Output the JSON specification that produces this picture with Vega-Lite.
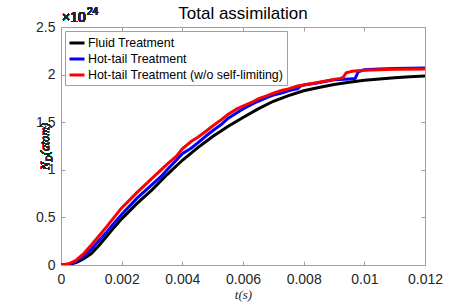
{
  "$schema": "https://vega.github.io/schema/vega-lite/v6.json",
  "width": 364,
  "height": 238,
  "autosize": "none",
  "padding": {"left": 61, "top": 27, "right": 44, "bottom": 40},
  "background": "white",
  "config": {
    "view": {"stroke": null},
    "font": "Liberation Sans",
    "axis": {
      "grid": false,
      "domainColor": "#a0a0a0",
      "tickColor": "#a0a0a0",
      "domainWidth": 1,
      "tickWidth": 1,
      "tickSize": -4,
      "labelFont": "Liberation Sans",
      "labelFontSize": 14,
      "labelColor": "#262626",
      "labelFlush": false,
      "labelOverlap": false
    },
    "legend": {
      "orient": "top-left",
      "offset": 4,
      "symbolType": "stroke",
      "symbolSize": 225,
      "symbolStrokeWidth": 3,
      "labelFont": "Liberation Sans",
      "labelFontSize": 12.4,
      "labelColor": "black",
      "labelLimit": 400,
      "labelOffset": 2,
      "strokeColor": "#a0a0a0",
      "fillColor": "white",
      "padding": 3,
      "rowPadding": 0
    }
  },
  "title": {
    "text": "Total assimilation",
    "font": "Liberation Sans",
    "fontSize": 17,
    "fontWeight": "normal",
    "color": "black",
    "offset": 4,
    "dy": 20
  },
  "data": {
    "values": [
      {"t": 0, "n": 0, "s": "Fluid Treatment"},
      {"t": 0.00025, "n": 0.005, "s": "Fluid Treatment"},
      {"t": 0.0005, "n": 0.025, "s": "Fluid Treatment"},
      {"t": 0.00075, "n": 0.065, "s": "Fluid Treatment"},
      {"t": 0.001, "n": 0.12, "s": "Fluid Treatment"},
      {"t": 0.00125, "n": 0.205, "s": "Fluid Treatment"},
      {"t": 0.0015, "n": 0.3, "s": "Fluid Treatment"},
      {"t": 0.00175, "n": 0.395, "s": "Fluid Treatment"},
      {"t": 0.002, "n": 0.485, "s": "Fluid Treatment"},
      {"t": 0.0025, "n": 0.645, "s": "Fluid Treatment"},
      {"t": 0.003, "n": 0.79, "s": "Fluid Treatment"},
      {"t": 0.0035, "n": 0.95, "s": "Fluid Treatment"},
      {"t": 0.004, "n": 1.1, "s": "Fluid Treatment"},
      {"t": 0.0045, "n": 1.23, "s": "Fluid Treatment"},
      {"t": 0.005, "n": 1.35, "s": "Fluid Treatment"},
      {"t": 0.0055, "n": 1.455, "s": "Fluid Treatment"},
      {"t": 0.006, "n": 1.55, "s": "Fluid Treatment"},
      {"t": 0.0065, "n": 1.64, "s": "Fluid Treatment"},
      {"t": 0.007, "n": 1.72, "s": "Fluid Treatment"},
      {"t": 0.0075, "n": 1.78, "s": "Fluid Treatment"},
      {"t": 0.008, "n": 1.83, "s": "Fluid Treatment"},
      {"t": 0.0085, "n": 1.865, "s": "Fluid Treatment"},
      {"t": 0.009, "n": 1.895, "s": "Fluid Treatment"},
      {"t": 0.0095, "n": 1.92, "s": "Fluid Treatment"},
      {"t": 0.01, "n": 1.94, "s": "Fluid Treatment"},
      {"t": 0.0105, "n": 1.955, "s": "Fluid Treatment"},
      {"t": 0.011, "n": 1.967, "s": "Fluid Treatment"},
      {"t": 0.0115, "n": 1.977, "s": "Fluid Treatment"},
      {"t": 0.012, "n": 1.985, "s": "Fluid Treatment"},

      {"t": 0, "n": 0, "s": "Hot-tail Treatment"},
      {"t": 0.00025, "n": 0.008, "s": "Hot-tail Treatment"},
      {"t": 0.0005, "n": 0.035, "s": "Hot-tail Treatment"},
      {"t": 0.00075, "n": 0.09, "s": "Hot-tail Treatment"},
      {"t": 0.001, "n": 0.165, "s": "Hot-tail Treatment"},
      {"t": 0.00125, "n": 0.255, "s": "Hot-tail Treatment"},
      {"t": 0.0015, "n": 0.345, "s": "Hot-tail Treatment"},
      {"t": 0.00175, "n": 0.44, "s": "Hot-tail Treatment"},
      {"t": 0.002, "n": 0.53, "s": "Hot-tail Treatment"},
      {"t": 0.0025, "n": 0.7, "s": "Hot-tail Treatment"},
      {"t": 0.003, "n": 0.845, "s": "Hot-tail Treatment"},
      {"t": 0.0033, "n": 0.93, "s": "Hot-tail Treatment"},
      {"t": 0.0035, "n": 1.0, "s": "Hot-tail Treatment"},
      {"t": 0.0038, "n": 1.1, "s": "Hot-tail Treatment"},
      {"t": 0.004, "n": 1.17, "s": "Hot-tail Treatment"},
      {"t": 0.0043, "n": 1.23, "s": "Hot-tail Treatment"},
      {"t": 0.0045, "n": 1.28, "s": "Hot-tail Treatment"},
      {"t": 0.0048, "n": 1.36, "s": "Hot-tail Treatment"},
      {"t": 0.005, "n": 1.41, "s": "Hot-tail Treatment"},
      {"t": 0.0053, "n": 1.48, "s": "Hot-tail Treatment"},
      {"t": 0.0055, "n": 1.54, "s": "Hot-tail Treatment"},
      {"t": 0.0058, "n": 1.6, "s": "Hot-tail Treatment"},
      {"t": 0.006, "n": 1.64, "s": "Hot-tail Treatment"},
      {"t": 0.0063, "n": 1.69, "s": "Hot-tail Treatment"},
      {"t": 0.0065, "n": 1.72, "s": "Hot-tail Treatment"},
      {"t": 0.0068, "n": 1.76, "s": "Hot-tail Treatment"},
      {"t": 0.007, "n": 1.785, "s": "Hot-tail Treatment"},
      {"t": 0.0073, "n": 1.81, "s": "Hot-tail Treatment"},
      {"t": 0.0075, "n": 1.83, "s": "Hot-tail Treatment"},
      {"t": 0.0077, "n": 1.845, "s": "Hot-tail Treatment"},
      {"t": 0.0078, "n": 1.85, "s": "Hot-tail Treatment"},
      {"t": 0.0079, "n": 1.88, "s": "Hot-tail Treatment"},
      {"t": 0.008, "n": 1.89, "s": "Hot-tail Treatment"},
      {"t": 0.0084, "n": 1.91, "s": "Hot-tail Treatment"},
      {"t": 0.009, "n": 1.945, "s": "Hot-tail Treatment"},
      {"t": 0.0095, "n": 1.955, "s": "Hot-tail Treatment"},
      {"t": 0.0097, "n": 1.96, "s": "Hot-tail Treatment"},
      {"t": 0.0098, "n": 2.03, "s": "Hot-tail Treatment"},
      {"t": 0.01, "n": 2.05, "s": "Hot-tail Treatment"},
      {"t": 0.0105, "n": 2.06, "s": "Hot-tail Treatment"},
      {"t": 0.011, "n": 2.065, "s": "Hot-tail Treatment"},
      {"t": 0.012, "n": 2.07, "s": "Hot-tail Treatment"},

      {"t": 0, "n": 0, "s": "Hot-tail Treatment (w/o self-limiting)"},
      {"t": 0.00025, "n": 0.012, "s": "Hot-tail Treatment (w/o self-limiting)"},
      {"t": 0.0005, "n": 0.05, "s": "Hot-tail Treatment (w/o self-limiting)"},
      {"t": 0.00075, "n": 0.12, "s": "Hot-tail Treatment (w/o self-limiting)"},
      {"t": 0.001, "n": 0.21, "s": "Hot-tail Treatment (w/o self-limiting)"},
      {"t": 0.00125, "n": 0.305, "s": "Hot-tail Treatment (w/o self-limiting)"},
      {"t": 0.0015, "n": 0.4, "s": "Hot-tail Treatment (w/o self-limiting)"},
      {"t": 0.00175, "n": 0.5, "s": "Hot-tail Treatment (w/o self-limiting)"},
      {"t": 0.002, "n": 0.6, "s": "Hot-tail Treatment (w/o self-limiting)"},
      {"t": 0.0025, "n": 0.76, "s": "Hot-tail Treatment (w/o self-limiting)"},
      {"t": 0.0028, "n": 0.85, "s": "Hot-tail Treatment (w/o self-limiting)"},
      {"t": 0.003, "n": 0.91, "s": "Hot-tail Treatment (w/o self-limiting)"},
      {"t": 0.0033, "n": 1.0, "s": "Hot-tail Treatment (w/o self-limiting)"},
      {"t": 0.0035, "n": 1.06, "s": "Hot-tail Treatment (w/o self-limiting)"},
      {"t": 0.0038, "n": 1.14, "s": "Hot-tail Treatment (w/o self-limiting)"},
      {"t": 0.004, "n": 1.22, "s": "Hot-tail Treatment (w/o self-limiting)"},
      {"t": 0.0043, "n": 1.3, "s": "Hot-tail Treatment (w/o self-limiting)"},
      {"t": 0.0045, "n": 1.34, "s": "Hot-tail Treatment (w/o self-limiting)"},
      {"t": 0.0048, "n": 1.41, "s": "Hot-tail Treatment (w/o self-limiting)"},
      {"t": 0.005, "n": 1.46, "s": "Hot-tail Treatment (w/o self-limiting)"},
      {"t": 0.0053, "n": 1.53, "s": "Hot-tail Treatment (w/o self-limiting)"},
      {"t": 0.0055, "n": 1.58, "s": "Hot-tail Treatment (w/o self-limiting)"},
      {"t": 0.0058, "n": 1.64, "s": "Hot-tail Treatment (w/o self-limiting)"},
      {"t": 0.006, "n": 1.67, "s": "Hot-tail Treatment (w/o self-limiting)"},
      {"t": 0.0063, "n": 1.71, "s": "Hot-tail Treatment (w/o self-limiting)"},
      {"t": 0.0065, "n": 1.745, "s": "Hot-tail Treatment (w/o self-limiting)"},
      {"t": 0.0068, "n": 1.78, "s": "Hot-tail Treatment (w/o self-limiting)"},
      {"t": 0.007, "n": 1.805, "s": "Hot-tail Treatment (w/o self-limiting)"},
      {"t": 0.0073, "n": 1.835, "s": "Hot-tail Treatment (w/o self-limiting)"},
      {"t": 0.0075, "n": 1.85, "s": "Hot-tail Treatment (w/o self-limiting)"},
      {"t": 0.0077, "n": 1.87, "s": "Hot-tail Treatment (w/o self-limiting)"},
      {"t": 0.0078, "n": 1.88, "s": "Hot-tail Treatment (w/o self-limiting)"},
      {"t": 0.008, "n": 1.89, "s": "Hot-tail Treatment (w/o self-limiting)"},
      {"t": 0.0085, "n": 1.92, "s": "Hot-tail Treatment (w/o self-limiting)"},
      {"t": 0.009, "n": 1.95, "s": "Hot-tail Treatment (w/o self-limiting)"},
      {"t": 0.0092, "n": 1.96, "s": "Hot-tail Treatment (w/o self-limiting)"},
      {"t": 0.0093, "n": 1.97, "s": "Hot-tail Treatment (w/o self-limiting)"},
      {"t": 0.0094, "n": 2.02, "s": "Hot-tail Treatment (w/o self-limiting)"},
      {"t": 0.0096, "n": 2.035, "s": "Hot-tail Treatment (w/o self-limiting)"},
      {"t": 0.0098, "n": 2.04, "s": "Hot-tail Treatment (w/o self-limiting)"},
      {"t": 0.01, "n": 2.045, "s": "Hot-tail Treatment (w/o self-limiting)"},
      {"t": 0.0105, "n": 2.05, "s": "Hot-tail Treatment (w/o self-limiting)"},
      {"t": 0.011, "n": 2.055, "s": "Hot-tail Treatment (w/o self-limiting)"},
      {"t": 0.012, "n": 2.06, "s": "Hot-tail Treatment (w/o self-limiting)"}
    ]
  },
  "layer": [
    {
      "mark": {"type": "line", "strokeWidth": 3, "clip": true},
      "encoding": {
        "x": {
          "field": "t",
          "type": "quantitative",
          "scale": {"domain": [0, 0.012], "nice": false, "zero": false},
          "axis": {
            "orient": "bottom",
            "values": [0, 0.002, 0.004, 0.006, 0.008, 0.01, 0.012],
            "format": "~g",
            "labelPadding": 11,
            "title": "t(s)",
            "titleFont": "Liberation Serif",
            "titleFontStyle": "italic",
            "titleFontWeight": "normal",
            "titleFontSize": 13,
            "titleColor": "#262626",
            "titlePadding": 2
          }
        },
        "y": {
          "field": "n",
          "type": "quantitative",
          "scale": {"domain": [0, 2.5], "nice": false},
          "axis": {
            "orient": "left",
            "values": [0, 0.5, 1, 1.5, 2, 2.5],
            "format": "~g",
            "labelPadding": 10,
            "title": null
          }
        },
        "color": {
          "field": "s",
          "type": "nominal",
          "scale": {
            "domain": ["Fluid Treatment", "Hot-tail Treatment", "Hot-tail Treatment (w/o self-limiting)"],
            "range": ["#000000", "#0000ff", "#ff0000"]
          },
          "legend": {"title": null}
        }
      }
    },
    {
      "mark": {"type": "line", "opacity": 0},
      "encoding": {
        "x": {
          "field": "t",
          "type": "quantitative",
          "axis": {
            "orient": "top",
            "values": [0, 0.002, 0.004, 0.006, 0.008, 0.01, 0.012],
            "labels": false,
            "title": null
          }
        },
        "y": {
          "field": "n",
          "type": "quantitative",
          "axis": {
            "orient": "right",
            "values": [0, 0.5, 1, 1.5, 2, 2.5],
            "labels": false,
            "title": null
          }
        },
        "detail": {"field": "s", "type": "nominal"}
      }
    },
    {
      "mark": {"type": "text", "text": "×10", "align": "left", "baseline": "alphabetic", "dx": 1, "dy": -5, "fontSize": 14, "font": "Liberation Sans", "color": "#262626"},
      "encoding": {
        "x": {"datum": 0, "type": "quantitative", "axis": null},
        "y": {"datum": 2.5, "type": "quantitative", "axis": null}
      }
    },
    {
      "mark": {"type": "text", "text": "24", "align": "left", "baseline": "alphabetic", "dx": 26, "dy": -12, "fontSize": 10, "font": "Liberation Sans", "color": "#262626"},
      "encoding": {
        "x": {"datum": 0, "type": "quantitative", "axis": null},
        "y": {"datum": 2.5, "type": "quantitative", "axis": null}
      }
    },
    {
      "mark": {"type": "text", "text": "N", "align": "left", "baseline": "middle", "angle": 270, "dx": -24, "dy": -16, "fontSize": 12, "font": "Liberation Serif", "fontStyle": "italic", "color": "#262626"},
      "encoding": {
        "x": {"datum": 0, "type": "quantitative", "axis": null},
        "y": {"datum": 1.25, "type": "quantitative", "axis": null}
      }
    },
    {
      "mark": {"type": "text", "text": "D", "align": "left", "baseline": "middle", "angle": 270, "dx": -15.5, "dy": -12.5, "fontSize": 8.5, "font": "Liberation Serif", "fontStyle": "italic", "color": "#262626"},
      "encoding": {
        "x": {"datum": 0, "type": "quantitative", "axis": null},
        "y": {"datum": 1.25, "type": "quantitative", "axis": null}
      }
    },
    {
      "mark": {"type": "text", "text": "(atom)", "align": "left", "baseline": "middle", "angle": 270, "dx": -9, "dy": -16, "fontSize": 12, "font": "Liberation Serif", "fontStyle": "italic", "color": "#262626"},
      "encoding": {
        "x": {"datum": 0, "type": "quantitative", "axis": null},
        "y": {"datum": 1.25, "type": "quantitative", "axis": null}
      }
    }
  ],
  "resolve": {"axis": {"x": "independent", "y": "independent"}}
}
